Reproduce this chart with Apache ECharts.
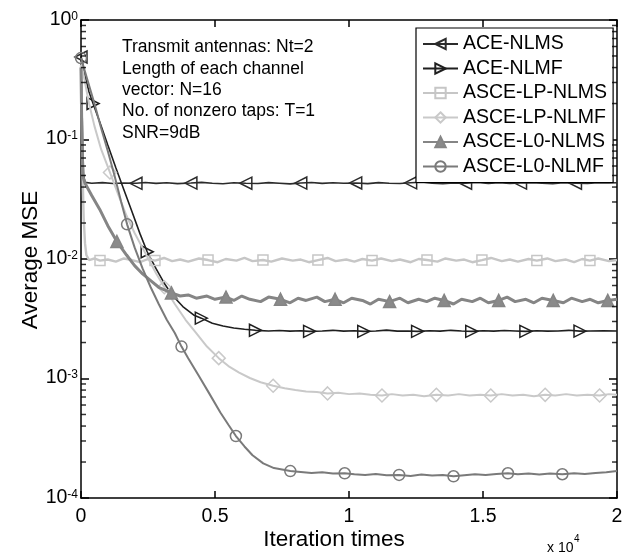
<!DOCTYPE html>
<html>
<head>
<meta charset="utf-8">
<script src="https://cdn.jsdelivr.net/npm/echarts@6/dist/echarts.min.js"></script>
<style>html,body{margin:0;padding:0;background:#fff}#c{width:634px;height:555px}</style>
</head>
<body>
<div id="c"></div>
<script>
// ---- data (iteration, average MSE) ----
const seriesNames = ['ACE-NLMS','ACE-NLMF','ASCE-LP-NLMS','ASCE-LP-NLMF','ASCE-L0-NLMS','ASCE-L0-NLMF'];

const aceNlms = [[0,0.49],[30,0.25],[60,0.1],[100,0.05],[150,0.0438],[400,0.0431],[800,0.0436],[1200,0.0428],[1600,0.0433],[2050,0.0430],[2400,0.0437],[2800,0.0429],[3200,0.0434],[3600,0.0427],[4100,0.0432],[4500,0.0438],[4900,0.0430],[5300,0.0426],[5700,0.0435],[6150,0.0431],[6600,0.0428],[7000,0.0436],[7400,0.0431],[7800,0.0425],[8200,0.0432],[8600,0.0437],[9000,0.0429],[9400,0.0434],[9800,0.0430],[10250,0.0433],[10700,0.0427],[11100,0.0436],[11500,0.0431],[11900,0.0428],[12300,0.0434],[12700,0.0439],[13100,0.0430],[13500,0.0426],[13900,0.0433],[14350,0.0431],[14800,0.0437],[15200,0.0429],[15600,0.0434],[16000,0.0428],[16400,0.0432],[16800,0.0436],[17200,0.0430],[17600,0.0427],[18000,0.0435],[18450,0.0431],[18900,0.0428],[19300,0.0436],[19700,0.0432],[20000,0.0434]];
const aceNlmsMarks = [0,2050,4100,6150,8200,10250,12300,14350,16400,18450];

const aceNlmf = [[0,0.5],[150,0.34],[300,0.25],[450,0.2],[700,0.14],[1000,0.09],[1300,0.058],[1600,0.038],[1900,0.025],[2200,0.0163],[2470,0.0115],[2800,0.0083],[3100,0.0063],[3400,0.0050],[3800,0.0040],[4200,0.0034],[4490,0.0032],[4900,0.0029],[5300,0.00275],[5700,0.00265],[6100,0.00258],[6510,0.00253],[7000,0.00250],[7400,0.00252],[7800,0.00249],[8200,0.00251],[8530,0.00248],[9000,0.00250],[9400,0.00253],[9800,0.00249],[10200,0.00251],[10550,0.00248],[11000,0.00250],[11400,0.00254],[11800,0.00249],[12200,0.00250],[12560,0.00248],[13000,0.00251],[13400,0.00249],[13800,0.00253],[14200,0.00250],[14580,0.00248],[15000,0.00251],[15400,0.00249],[15800,0.00252],[16200,0.00250],[16600,0.00248],[17000,0.00251],[17400,0.00249],[17800,0.00250],[18200,0.00253],[18620,0.00249],[19000,0.00250],[19500,0.00251],[20000,0.00250]];
const aceNlmfMarks = [450,2470,4490,6510,8530,10550,12560,14580,16600,18620];

const lpNlms = [[0,0.42],[30,0.15],[60,0.05],[100,0.022],[150,0.0135],[200,0.0108],[300,0.0098],[500,0.0101],[709,0.0097],[1000,0.0099],[1300,0.0095],[1600,0.0101],[1900,0.0098],[2200,0.0094],[2500,0.0100],[2760,0.0097],[3100,0.0102],[3400,0.0096],[3700,0.0099],[4000,0.0095],[4400,0.0101],[4740,0.0098],[5100,0.0094],[5400,0.0100],[5800,0.0097],[6100,0.0102],[6400,0.0096],[6790,0.0098],[7100,0.0095],[7500,0.0101],[7900,0.0097],[8200,0.0099],[8500,0.0094],[8840,0.0098],[9200,0.0102],[9500,0.0096],[9900,0.0099],[10200,0.0095],[10500,0.0100],[10860,0.0097],[11200,0.0101],[11600,0.0096],[11900,0.0099],[12300,0.0094],[12600,0.0100],[12910,0.0098],[13300,0.0095],[13600,0.0101],[14000,0.0097],[14300,0.0099],[14600,0.0094],[14960,0.0098],[15300,0.0102],[15700,0.0096],[16000,0.0099],[16300,0.0095],[16700,0.0100],[17010,0.0097],[17400,0.0101],[17700,0.0096],[18100,0.0099],[18400,0.0094],[18700,0.0100],[18990,0.0097],[19300,0.0101],[19700,0.0096],[20000,0.0098]];
const lpNlmsMarks = [709,2760,4740,6790,8840,10860,12910,14960,17010,18990];

const lpNlmf = [[0,0.45],[150,0.3],[300,0.2],[500,0.13],[750,0.083],[1080,0.053],[1400,0.034],[1700,0.023],[2000,0.0165],[2400,0.0112],[2800,0.0076],[3110,0.0058],[3500,0.0042],[3900,0.0031],[4300,0.0024],[4700,0.00185],[5140,0.00148],[5500,0.00127],[5900,0.00112],[6300,0.00101],[6700,0.00093],[7170,0.00087],[7600,0.00083],[8000,0.0008],[8400,0.00078],[8800,0.00077],[9200,0.00075],[9600,0.00076],[10000,0.00074],[10400,0.00075],[10800,0.00073],[11230,0.00072],[11600,0.00074],[12000,0.00072],[12400,0.00073],[12800,0.00071],[13260,0.00073],[13700,0.00072],[14100,0.00074],[14500,0.00072],[14900,0.00073],[15290,0.00072],[15700,0.00074],[16100,0.00072],[16500,0.00073],[16900,0.00071],[17320,0.00073],[17700,0.00072],[18100,0.00074],[18500,0.00072],[18900,0.00073],[19350,0.00072],[19700,0.00074],[20000,0.00073]];
const lpNlmfMarks = [1080,3110,5140,7170,9200,11230,13260,15290,17320,19350];

const l0Nlms = [[0,0.4],[30,0.12],[60,0.05],[150,0.043],[400,0.034],[700,0.026],[1000,0.019],[1340,0.014],[1700,0.0108],[2000,0.0088],[2300,0.0075],[2600,0.0066],[2900,0.0058],[3375,0.0052],[3700,0.0049],[4000,0.0050],[4300,0.0047],[4700,0.0049],[5000,0.0046],[5410,0.0048],[5700,0.0045],[6000,0.0049],[6300,0.0046],[6700,0.0044],[7000,0.0048],[7445,0.0046],[7800,0.0043],[8100,0.0047],[8400,0.0045],[8800,0.0048],[9100,0.0044],[9480,0.0046],[9800,0.0043],[10100,0.0047],[10500,0.0045],[10800,0.0042],[11100,0.0046],[11515,0.0044],[11900,0.0047],[12200,0.0043],[12600,0.0046],[12900,0.0044],[13200,0.0047],[13550,0.0045],[13900,0.0042],[14200,0.0046],[14600,0.0044],[14900,0.0047],[15200,0.0043],[15585,0.0045],[15900,0.0048],[16200,0.0044],[16600,0.0046],[16900,0.0043],[17200,0.0047],[17620,0.0045],[18000,0.0043],[18300,0.0047],[18700,0.0044],[19000,0.0046],[19300,0.0043],[19655,0.0045],[20000,0.0046]];
const l0NlmsMarks = [1340,3375,5410,7445,9480,11515,13550,15585,17620,19655];

const l0Nlmf = [[0,0.48],[250,0.31],[500,0.2],[750,0.125],[1000,0.08],[1250,0.05],[1500,0.03],[1720,0.0195],[2000,0.0125],[2300,0.0083],[2600,0.0058],[2900,0.0042],[3200,0.0031],[3500,0.0024],[3750,0.00185],[4000,0.00148],[4400,0.00105],[4800,0.00074],[5200,0.00052],[5500,0.00041],[5780,0.00033],[6100,0.00027],[6400,0.000228],[6800,0.000195],[7200,0.000178],[7810,0.000168],[8200,0.000165],[8600,0.000162],[9000,0.000164],[9400,0.00016],[9840,0.000161],[10200,0.000158],[10600,0.000156],[11000,0.000159],[11400,0.000155],[11870,0.000156],[12300,0.000153],[12700,0.000157],[13100,0.000154],[13500,0.000156],[13900,0.000152],[14300,0.000155],[14700,0.000158],[15100,0.000156],[15500,0.000159],[15930,0.000161],[16300,0.000158],[16700,0.00016],[17100,0.000157],[17500,0.00016],[17960,0.000158],[18400,0.000161],[18800,0.000159],[19200,0.000162],[19600,0.000164],[20000,0.000168]];
const l0NlmfMarks = [0,1720,3750,5780,7810,9840,11870,13900,15930,17960];

const xTickLabels = ['0','0.5','1','1.5','2'];
const yDecades = [1e-4,1e-3,1e-2,1e-1,1];
const annotation = ['Transmit antennas: Nt=2','Length of each channel','vector: N=16','No. of nonzero taps: T=1','SNR=9dB'];

// ---- build ----
const FONT = 'Liberation Sans, Arial, sans-serif';
function build(arr, marks){
  return arr.map(p => marks.indexOf(p[0]) >= 0 ? {value:p} : {value:p, symbol:'none'});
}
const styles = [
  {data:aceNlms, marks:aceNlmsMarks, color:'#2b2b2b', width:1.6, symbol:'triangle', rot:90, size:12, fill:'rgba(255,255,255,0)'},
  {data:aceNlmf, marks:aceNlmfMarks, color:'#1f1f1f', width:1.6, symbol:'triangle', rot:-90, size:12, fill:'rgba(255,255,255,0)'},
  {data:lpNlms, marks:lpNlmsMarks, color:'#c6c6c6', width:2.4, symbol:'rect', rot:0, size:10, fill:'rgba(255,255,255,0)'},
  {data:lpNlmf, marks:lpNlmfMarks, color:'#c9c9c9', width:2, symbol:'diamond', rot:0, size:13, fill:'rgba(255,255,255,0)'},
  {data:l0Nlms, marks:l0NlmsMarks, color:'#858585', width:3, symbol:'triangle', rot:0, size:12, fill:'#8a8a8a'},
  {data:l0Nlmf, marks:l0NlmfMarks, color:'#7a7a7a', width:2, symbol:'circle', rot:0, size:11, fill:'rgba(255,255,255,0)'}
];

const series = styles.map((s,i) => ({
  name: seriesNames[i], type:'line', data: build(s.data, s.marks),
  showSymbol:true, showAllSymbol:true, symbol:s.symbol, symbolSize:s.size, symbolRotate:s.rot,
  lineStyle:{color:s.color, width:s.width},
  itemStyle:{color:s.fill, borderColor:s.color, borderWidth:1.5},
  emphasis:{disabled:true}, animation:false, z: 2 + i
}));

// minor log ticks (2..9 in each decade), left and right edges, placed via the axes
const minorVals = [];
for (let d = 0; d < yDecades.length - 1; d++) for (let k = 2; k <= 9; k++) minorVals.push(yDecades[d]*k);
series.push({
  type:'scatter', silent:true, animation:false, z:10, clip:false,
  symbol:'rect', symbolSize:[5,1.5], symbolOffset:[2.5,0],
  itemStyle:{color:'#000'}, emphasis:{disabled:true},
  data: minorVals.map(v => [0, v])
});
series.push({
  type:'scatter', silent:true, animation:false, z:10, clip:false,
  symbol:'rect', symbolSize:[5,1.5], symbolOffset:[-2.5,0],
  itemStyle:{color:'#000'}, emphasis:{disabled:true},
  data: minorVals.map(v => [20000, v])
});

const axisLine = {show:true, onZero:false, lineStyle:{color:'#000', width:1.5}};
const tick = (len) => ({show:true, inside:true, length:len, lineStyle:{color:'#000', width:1.5}});
const chart = echarts.init(document.getElementById('c'), null, {renderer:'canvas'});
chart.setOption({
  backgroundColor:'#fff',
  animation:false,
  grid:{left:81, right:17, top:20, bottom:57},
  xAxis:[
    {type:'value', min:0, max:20000, interval:5000, position:'bottom',
     axisLine, axisTick:tick(7), splitLine:{show:false},
     axisLabel:{margin:9, fontSize:19.5, fontFamily:FONT, color:'#000', formatter:(v)=>xTickLabels[Math.round(v/5000)]}},
    {type:'value', min:0, max:20000, interval:5000, position:'top',
     axisLine, axisTick:tick(7), splitLine:{show:false}, axisLabel:{show:false}}
  ],
  yAxis:[
    {type:'log', logBase:10, min:1e-4, max:1, position:'left',
     axisLine, axisTick:tick(8), splitLine:{show:false}, minorTick:{show:false},
     axisLabel:{margin:3, fontFamily:FONT, color:'#000', padding:[0,0,0,0],
       formatter:(v)=>'{b|10}{s|' + Math.round(Math.log10(v)) + '}',
       rich:{
         b:{fontSize:19.5, fontFamily:FONT, color:'#000', lineHeight:19, verticalAlign:'bottom'},
         s:{fontSize:12, fontFamily:FONT, color:'#000', lineHeight:12, verticalAlign:'top', padding:[0,0,12,0]}
       }}},
    {type:'log', logBase:10, min:1e-4, max:1, position:'right',
     axisLine, axisTick:tick(8), splitLine:{show:false}, axisLabel:{show:false}}
  ],
  legend:{
    data: seriesNames, orient:'vertical', left:416, top:28,
    padding:[6,6,6,6], itemGap:4.5, itemWidth:35, itemHeight:13,
    backgroundColor:'#fff', borderColor:'#000', borderWidth:1.2,
    textStyle:{fontSize:19.5, fontFamily:FONT, color:'#000'},
    selectedMode:false
  },
  graphic:[
    {type:'text', left:122, top:37, silent:true,
     style:{text:annotation.join('\n'), font:'17.5px ' + FONT, fill:'#000', lineHeight:21.3}},
    {type:'text', x:334, y:540, silent:true,
     style:{text:'Iteration times', font:'22.5px ' + FONT, fill:'#000', align:'center', verticalAlign:'middle'}},
    {type:'text', x:31, y:260, rotation:Math.PI/2, silent:true,
     style:{text:'Average MSE', font:'22.5px ' + FONT, fill:'#000', align:'center', verticalAlign:'middle'}},
    {type:'text', x:547, y:548, silent:true,
     style:{text:'x 10', font:'14px ' + FONT, fill:'#000', verticalAlign:'middle'}},
    {type:'text', x:574, y:539, silent:true,
     style:{text:'4', font:'10px ' + FONT, fill:'#000', verticalAlign:'middle'}}
  ],
  series
});
</script>
</body>
</html>
